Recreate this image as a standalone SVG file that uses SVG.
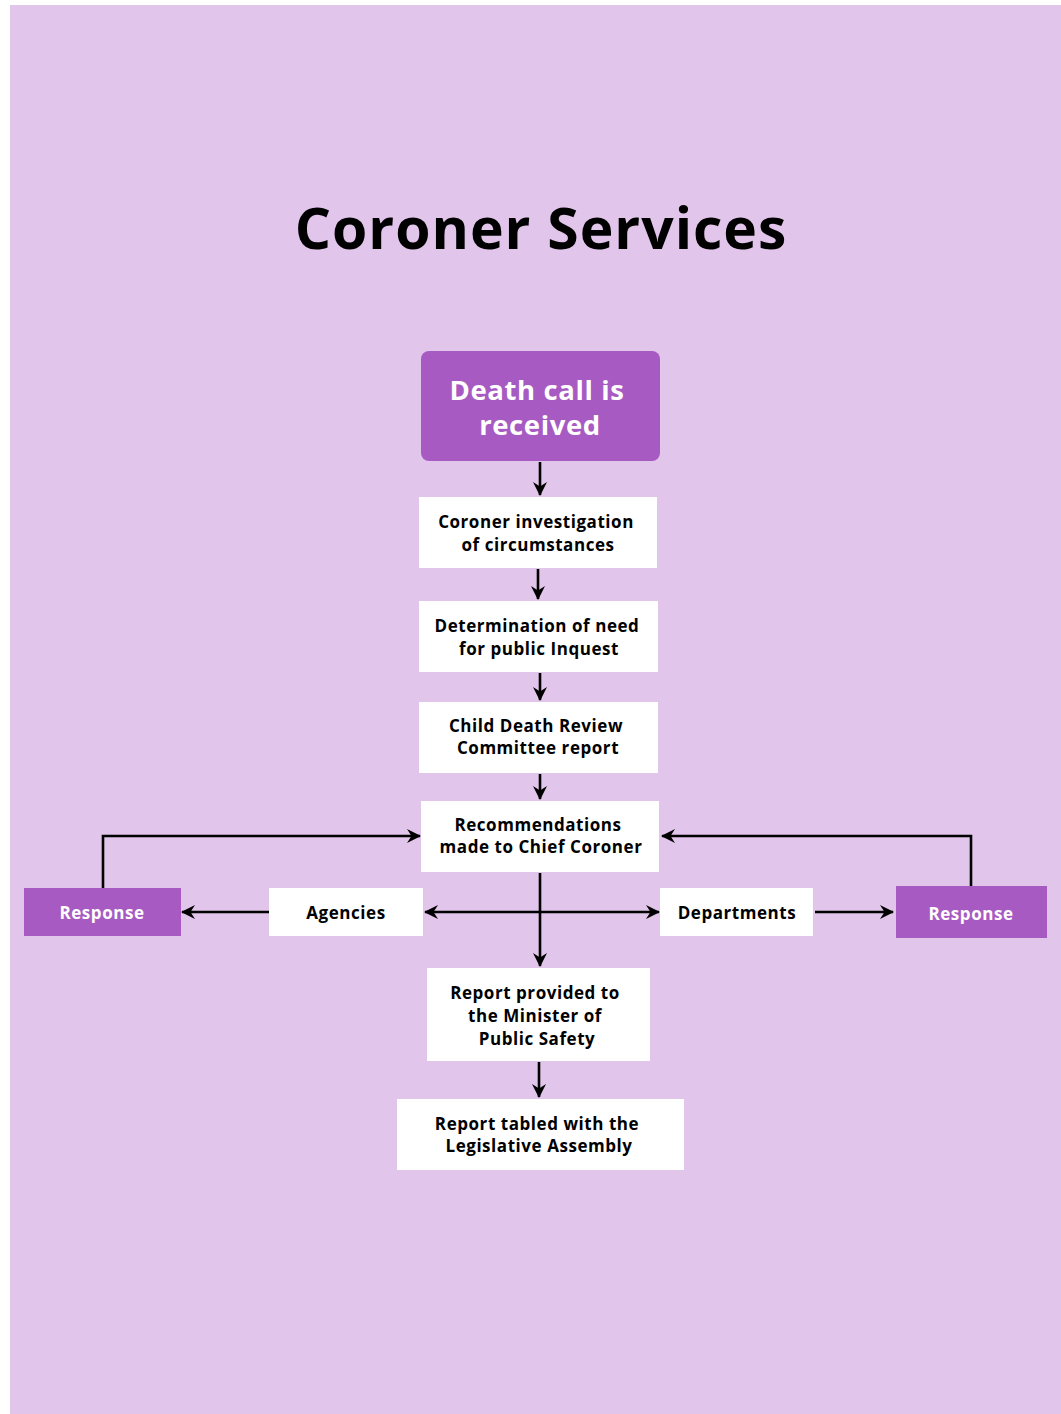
<svg xmlns="http://www.w3.org/2000/svg" width="1061" height="1414" viewBox="0 0 1061 1414">
<style>
.bg{fill:#e1c5ea}
.box{fill:#ffffff}
.pbox{fill:#a75bc2}
.t{font-family:"Open Sans",Lato,sans-serif;font-weight:700;font-size:17px;letter-spacing:0.55px;fill:#000;text-anchor:middle;dominant-baseline:central}
.tw{font-family:"Open Sans",Lato,sans-serif;font-weight:700;font-size:17px;letter-spacing:0.55px;fill:#fff;text-anchor:middle;dominant-baseline:central}
.big{font-size:27.5px;letter-spacing:0.6px}
.title{font-family:"Open Sans",Lato,sans-serif;font-weight:700;font-size:57px;letter-spacing:1px;fill:#000;text-anchor:middle}
.c{fill:none;stroke:#000;stroke-width:2.6}
</style>
<defs>
<marker id="ah" viewBox="0 0 14 14" refX="13" refY="7" markerWidth="14" markerHeight="14" markerUnits="userSpaceOnUse" orient="auto-start-reverse">
<path d="M0,0 L14,7 L0,14 L4.5,7 z" fill="#000"/>
</marker>
</defs>
<rect class="bg" x="10" y="5" width="1051" height="1409"/>
<text class="title" x="541" y="249">Coroner Services</text>

<g id="connectors">
<path class="c" d="M540,462 V495" marker-end="url(#ah)"/>
<path class="c" d="M538,569 V599" marker-end="url(#ah)"/>
<path class="c" d="M540,673 V700" marker-end="url(#ah)"/>
<path class="c" d="M540,774 V799" marker-end="url(#ah)"/>
<path class="c" d="M540,873 V966" marker-end="url(#ah)"/>
<path class="c" d="M425,912 H659" marker-start="url(#ah)" marker-end="url(#ah)"/>
<path class="c" d="M269,912 H182" marker-end="url(#ah)"/>
<path class="c" d="M815,912 H893" marker-end="url(#ah)"/>
<path class="c" d="M103,888 V836 H420" marker-end="url(#ah)"/>
<path class="c" d="M971,886 V836 H662" marker-end="url(#ah)"/>
<path class="c" d="M539,1062 V1097" marker-end="url(#ah)"/>
</g>

<g id="death-call">
<rect class="pbox" x="421" y="351" width="239" height="110" rx="8"/>
<text class="tw big" x="537" y="389">Death call is</text>
<text class="tw big" x="540" y="424">received</text>
</g>
<g id="investigation">
<rect class="box" x="419" y="497" width="238" height="71"/>
<text class="t" x="536" y="521">Coroner investigation</text>
<text class="t" x="538" y="544">of circumstances</text>
</g>
<g id="determination">
<rect class="box" x="419" y="601" width="239" height="71"/>
<text class="t" x="537" y="625">Determination of need</text>
<text class="t" x="539" y="648">for public Inquest</text>
</g>
<g id="child-death">
<rect class="box" x="419" y="702" width="239" height="71"/>
<text class="t" x="536" y="725">Child Death Review</text>
<text class="t" x="538" y="747">Committee report</text>
</g>
<g id="recommendations">
<rect class="box" x="421" y="801" width="238" height="71"/>
<text class="t" x="538" y="824">Recommendations</text>
<text class="t" x="541" y="846">made to Chief Coroner</text>
</g>
<g id="response-left">
<rect class="pbox" x="24" y="888" width="157" height="48"/>
<text class="tw" x="102" y="912">Response</text>
</g>
<g id="agencies">
<rect class="box" x="269" y="888" width="154" height="48"/>
<text class="t" x="346" y="912">Agencies</text>
</g>
<g id="departments">
<rect class="box" x="660" y="888" width="153" height="48"/>
<text class="t" x="737" y="912">Departments</text>
</g>
<g id="response-right">
<rect class="pbox" x="896" y="886" width="151" height="52"/>
<text class="tw" x="971" y="913">Response</text>
</g>
<g id="report-minister">
<rect class="box" x="427" y="968" width="223" height="93"/>
<text class="t" x="535" y="992">Report provided to</text>
<text class="t" x="535" y="1015">the Minister of</text>
<text class="t" x="537" y="1038">Public Safety</text>
</g>
<g id="report-tabled">
<rect class="box" x="397" y="1099" width="287" height="71"/>
<text class="t" x="537" y="1123">Report tabled with the</text>
<text class="t" x="539" y="1145">Legislative Assembly</text>
</g>
</svg>
